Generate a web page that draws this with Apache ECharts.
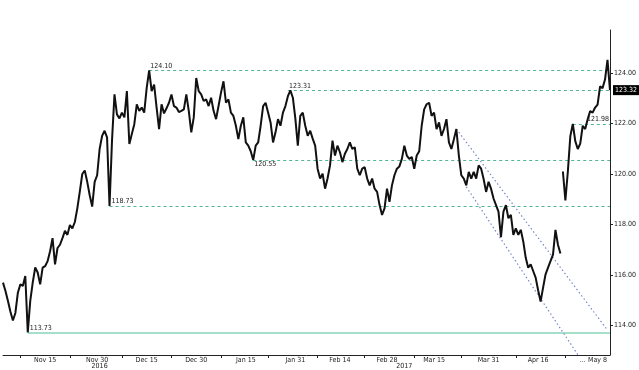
<!DOCTYPE html>
<html>
<head>
<meta charset="utf-8">
<script src="https://cdn.jsdelivr.net/npm/echarts@6/dist/echarts.min.js"></script>
<style>
html,body{margin:0;padding:0;background:#fff;}
#c{width:639px;height:370px;}
</style>
</head>
<body>
<div id="c"></div>
<script>
// Price series (first segment, then second segment after the gap)
const seg1 = [
115.70,115.37,114.97,114.55,114.20,114.50,115.30,115.63,115.57,115.96,
113.73,114.98,115.70,116.30,116.10,115.63,116.29,116.35,116.55,116.94,
117.46,116.42,117.07,117.20,117.46,117.75,117.59,117.98,117.85,118.10,
118.64,119.30,120.00,120.14,119.69,119.16,118.71,119.69,119.95,120.99,
121.51,121.71,121.45,118.73,121.32,123.15,122.36,122.20,122.43,122.24,
123.28,121.19,121.58,121.97,122.76,122.50,122.63,122.43,123.41,124.10,
123.28,123.54,122.63,121.78,122.76,122.40,122.60,122.82,123.15,122.69,
122.63,122.45,122.50,122.56,123.15,122.49,121.65,122.24,123.80,123.28,
123.15,122.89,122.95,122.69,123.02,122.50,122.17,122.69,123.22,123.67,
122.82,122.95,122.43,122.30,121.91,121.38,121.91,122.24,121.25,121.12,
120.90,120.55,121.12,121.25,121.91,122.69,122.82,122.43,122.04,121.25,
121.65,122.17,121.91,122.43,122.69,123.08,123.31,123.02,122.20,121.12,
122.30,122.43,121.91,121.51,121.71,121.40,121.12,120.20,119.82,120.01,
119.42,119.82,120.34,121.32,120.73,121.12,120.86,120.47,120.80,120.99,
121.25,120.99,121.06,120.21,119.95,120.21,120.27,119.82,119.55,119.82,
119.42,119.29,118.77,118.38,118.64,119.42,118.90,119.55,119.95,120.21,
120.30,120.60,121.12,120.73,120.60,120.67,120.21,120.73,120.90,121.91,
122.56,122.76,122.82,122.30,122.43,121.78,122.04,121.51,121.78,122.17,
121.25,120.99,121.38,121.78,120.73,119.95,119.82,119.55,120.08,119.82,
120.08,119.82,120.34,120.21,119.80,119.29,119.69,119.42,119.03,118.77,
118.51,117.50,118.51,118.77,118.25,118.38,117.59,117.85,117.59,117.79,
117.33,116.68,116.29,116.42,116.16,115.90,115.40,114.95,115.50,116.03,
116.29,116.55,116.81,117.79,117.20,116.85
];
const seg2 = [
120.10,118.95,120.10,121.50,121.98,121.30,120.99,121.20,121.91,121.78,
122.17,122.49,122.43,122.63,122.75,123.47,123.40,123.74,124.52,123.32
];
const lastPrice = 123.32;

// Axis labels (category index -> text)
const dateLabelIdx = [17, 38, 58, 78, 98, 118, 136, 155, 174, 196, 216, 234, 240];
const dateLabels   = ['Nov 15','Nov 30','Dec 15','Dec 30','Jan 15','Jan 31','Feb 14','Feb 28','Mar 15','Mar 31','Apr 16','...','May 8'];
const tickIdx      = [7, 27, 48, 68, 88, 107, 127, 146, 166, 185, 207, 227];
const yearIdx      = [39, 162];
const yearLabels   = ['2016', '2017'];

// Horizontal levels: value and the bar where each starts
const levelValues = [124.10, 123.31, 120.55, 118.73, 121.98];
const levelStart  = [59, 115, 101, 43, 230];
const levelLabelPos = ['insideStartTop','insideStartTop','insideStartBottom','insideStartTop','insideEndTop'];
const supportValue = 113.73;
const supportStart = 10;

// Trend lines: [startIdx, startVal, endIdx, endVal]
const trendUpper = [183, 121.78, 244, 113.82];
const trendLower = [187, 119.49, 232, 112.85];

const N = seg1.length + seg2.length;
const categories = Array.from({length: N}, (_, i) => String(i));
const dateMap = {}; dateLabelIdx.forEach((k, j) => dateMap[k] = dateLabels[j]);
const yearMap = {}; yearIdx.forEach((k, j) => yearMap[k] = yearLabels[j]);
const lastIdx = N - 1;

const FONT = "'Liberation Sans Narrow', 'DejaVu Sans Condensed', 'Liberation Sans', sans-serif";
const TEAL = '#4fb594';

const markData = [];
levelValues.forEach((v, j) => {
  markData.push([
    {coord: [levelStart[j], v],
     lineStyle: {color: TEAL, type: [3, 3], width: 1},
     label: {show: true, position: levelLabelPos[j], formatter: v.toFixed(2), distance: 1,
             padding: [0, 0, 0, j === 3 ? 1 : 0],
             color: '#222', fontSize: 7, fontFamily: FONT}},
    {coord: [lastIdx, v]}
  ]);
});
markData.push([
  {coord: [supportStart, supportValue],
   lineStyle: {color: '#a6e0cb', type: 'solid', width: 2},
   label: {show: true, position: 'insideStartTop', formatter: supportValue.toFixed(2), distance: 1,
           padding: [0, 0, 0, 1],
           color: '#222', fontSize: 7, fontFamily: FONT}},
  {coord: [lastIdx, supportValue]}
]);
[trendUpper, trendLower].forEach(t => {
  markData.push([
    {coord: [t[0], t[1]], lineStyle: {color: '#7a86cc', type: [1.5, 2.5], width: 1.2}, label: {show: false}},
    {coord: [t[2], t[3]]}
  ]);
});
markData.push({
  yAxis: lastPrice,
  lineStyle: {color: 'rgba(0,0,0,0)', width: 1, type: 'solid'},
  label: {show: true, position: 'end', formatter: lastPrice.toFixed(2), distance: 3,
          color: '#fff', backgroundColor: '#000', padding: [2, 2, 1, 2],
          fontSize: 7, fontFamily: FONT}
});

const chart = echarts.init(document.getElementById('c'), null, {renderer: 'canvas'});
chart.setOption({
  animation: false,
  backgroundColor: '#fff',
  grid: {left: 0, right: 26, top: 30, bottom: 12, containLabel: false},
  xAxis: [{
    type: 'category', data: categories, boundaryGap: false,
    axisLine: {show: true, lineStyle: {color: '#222', width: 1}},
    axisTick: {show: true, length: 3, lineStyle: {color: '#222'},
               interval: (i) => tickIdx.indexOf(i) >= 0},
    axisLabel: {interval: 0, margin: 2, fontSize: 7, color: '#222', fontFamily: FONT,
                formatter: (val, i) => dateMap[i] || ''},
    splitLine: {show: false}
  }, {
    type: 'category', data: categories, boundaryGap: false, position: 'bottom', offset: 6,
    axisLine: {show: false}, axisTick: {show: false},
    axisLabel: {interval: 0, margin: 2, fontSize: 7, color: '#222', fontFamily: FONT,
                formatter: (val, i) => yearMap[i] || ''},
    splitLine: {show: false}
  }],
  yAxis: {
    type: 'value', position: 'right', min: 112.835, max: 125.70, splitNumber: 6, scale: true,
    axisLine: {show: true, lineStyle: {color: '#222', width: 1}},
    axisTick: {show: true, length: 3, inside: false, lineStyle: {color: '#222'}},
    axisLabel: {margin: 4, fontSize: 7, color: '#222', fontFamily: FONT,
                showMinLabel: false, showMaxLabel: false,
                formatter: (v) => v.toFixed(2)},
    splitLine: {show: false}
  },
  series: [{
    type: 'line', data: seg1, symbol: 'none', silent: true,
    lineStyle: {color: '#111', width: 2}, z: 5,
    markLine: {symbol: ['none', 'none'], silent: true, animation: false, data: markData}
  }, {
    type: 'line', data: new Array(seg1.length).fill('-').concat(seg2), symbol: 'none', silent: true,
    connectNulls: false, lineStyle: {color: '#111', width: 2}, z: 5
  }]
});
</script>
</body>
</html>
